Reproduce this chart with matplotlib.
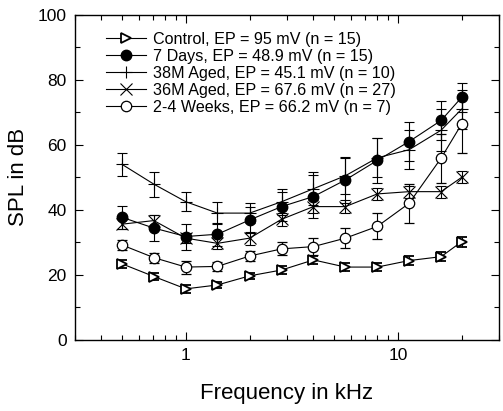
import matplotlib
matplotlib.use("Agg")
import matplotlib.pyplot as plt
from matplotlib.ticker import LogLocator, MultipleLocator, FixedLocator, NullFormatter

plt.rcParams['font.family'] = ['Liberation Sans', 'DejaVu Sans']

# Frequencies in kHz
freq = [0.5, 0.707, 1.0, 1.41, 2.0, 2.83, 4.0, 5.66, 8.0, 11.3, 16.0, 20.0]

control = [23.4, 19.5, 15.7, 16.9, 19.7, 21.5, 24.6, 22.4, 22.4, 24.4, 25.6, 30.2]
control_err = [1.3, 1.2, 1.2, 1.0, 1.0, 1.2, 1.3, 1.2, 1.2, 1.3, 1.3, 1.5]

days7 = [37.7, 34.4, 31.8, 32.5, 36.9, 41.0, 44.1, 49.2, 55.2, 61.0, 67.5, 74.6]
days7_err = [3.5, 4.0, 4.0, 3.5, 4.0, 4.5, 6.5, 7.0, 7.0, 6.0, 6.0, 4.5]

aged38 = [54.0, 47.9, 42.5, 39.0, 39.0, 42.5, 46.5, 50.5, 56.0, 58.5, 64.5, 71.0]
aged38_err = [3.6, 3.8, 3.0, 3.3, 3.0, 4.0, 5.0, 5.5, 6.0, 6.0, 6.5, 6.0]

aged36 = [35.6, 36.7, 31.3, 29.7, 31.3, 37.1, 41.0, 41.0, 44.9, 45.6, 45.6, 50.0]
aged36_err = [1.5, 1.8, 1.5, 1.8, 2.0, 2.0, 2.0, 2.0, 1.8, 1.8, 1.8, 1.8]

weeks24 = [29.2, 25.3, 22.4, 22.6, 25.8, 28.0, 28.7, 31.3, 34.9, 42.0, 55.9, 66.4]
weeks24_err = [1.5, 1.5, 2.0, 1.5, 1.5, 2.0, 2.5, 3.0, 4.0, 6.0, 7.5, 9.0]

labels = [
    "Control, EP = 95 mV (n = 15)",
    "7 Days, EP = 48.9 mV (n = 15)",
    "38M Aged, EP = 45.1 mV (n = 10)",
    "36M Aged, EP = 67.6 mV (n = 27)",
    "2-4 Weeks, EP = 66.2 mV (n = 7)",
]

fig = plt.figure(figsize=(5.03, 4.11), dpi=100)
ax = fig.add_axes([0.149, 0.173, 0.843, 0.791])

common = dict(color='black', ecolor='black', elinewidth=0.8, capsize=3.5,
              capthick=0.8, linewidth=0.8)

ax.errorbar(freq, control, yerr=control_err, marker='>', markersize=7.5,
            markerfacecolor='white', markeredgewidth=1.3, label=labels[0], **common)
ax.errorbar(freq, days7, yerr=days7_err, marker='o', markersize=7.5,
            markerfacecolor='black', label=labels[1], **common)
ax.errorbar(freq, aged38, yerr=aged38_err, marker='+', markersize=9,
            markeredgewidth=0.8, label=labels[2], **common)
ax.errorbar(freq, aged36, yerr=aged36_err, marker='x', markersize=8,
            markeredgewidth=0.8, label=labels[3], **common)
ax.errorbar(freq, weeks24, yerr=weeks24_err, marker='o', markersize=7.5,
            markerfacecolor='white', markeredgewidth=0.9, label=labels[4], **common)

ax.set_xscale('log')
ax.set_xlim(0.3, 30)
ax.set_ylim(0, 100)

ax.xaxis.set_major_locator(FixedLocator([1, 10]))
ax.set_xticklabels(['1', '10'])
ax.xaxis.set_minor_locator(LogLocator(base=10, subs=range(2, 10)))
ax.xaxis.set_minor_formatter(NullFormatter())
ax.yaxis.set_major_locator(MultipleLocator(20))
ax.yaxis.set_minor_locator(MultipleLocator(10))

ax.tick_params(which='both', direction='in', top=True, right=True,
               labelsize=12.5, width=0.8, pad=6)
ax.tick_params(which='major', length=6)
ax.tick_params(which='minor', length=3.5)
for s in ax.spines.values():
    s.set_linewidth(1.0)

ax.set_xlabel("Frequency in kHz", fontsize=16, labelpad=14)
ax.set_ylabel("SPL in dB", fontsize=16, labelpad=6)

handles, lbls = ax.get_legend_handles_labels()
handles = [h[0] for h in handles]
ax.legend(handles, lbls, loc='upper left', bbox_to_anchor=(0.05, 0.978),
          frameon=False, fontsize=11.6, handlelength=2.5, handletextpad=0.45,
          labelspacing=0.13, borderaxespad=0.2)

fig.savefig("out.png", dpi=100)
